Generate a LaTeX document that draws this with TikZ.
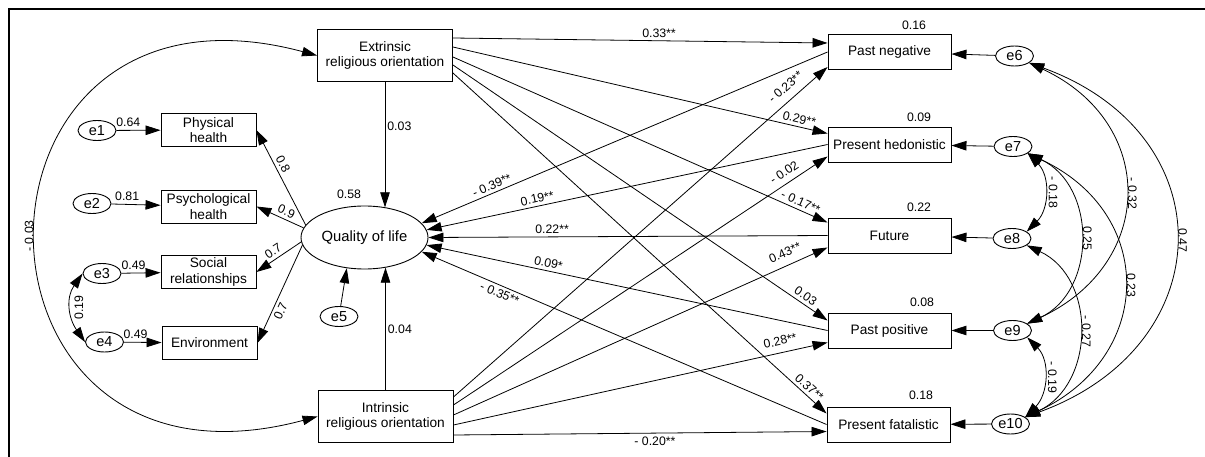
\documentclass[tikz,border=0pt]{standalone}
\usepackage{fontspec}
\setmainfont{Liberation Sans}
\usetikzlibrary{arrows.meta,shapes.geometric}

\tikzset{
    var/.style = {draw, rectangle, line width=0.9pt, align=center, inner sep=1pt, font=\fontsize{13.7}{15.5}\selectfont},
    orient/.style = {var, minimum width=135pt, minimum height=52pt},
    dom/.style = {var, minimum width=95pt, minimum height=33pt},
    tp/.style = {var, minimum width=123pt, minimum height=35pt},
    latent/.style = {draw, ellipse, line width=0.9pt, minimum width=127pt, minimum height=63pt, inner sep=0pt, font=\fontsize{14.8}{18}\selectfont},
    err/.style = {draw, ellipse, line width=0.9pt, minimum width=38pt, minimum height=20pt, inner sep=0pt, font=\fontsize{14.5}{16}\selectfont},
    reg/.style = {line width=0.8pt, -{Triangle[length=15pt,width=9.5pt]}},
    cov/.style = {line width=0.8pt, {Triangle[length=15pt,width=9.5pt]}-{Triangle[length=15pt,width=9.5pt]}},
    coef/.style = {font=\fontsize{12.3}{14}\selectfont, inner sep=3pt}
}

\begin{document}
\begin{tikzpicture}[x=1pt,y=1pt]
                        \useasboundingbox (0,0) rectangle (1205,-457);
                        \draw[line width=2pt] (9,-457) -- (9,-9) -- (1205,-9);

                        \node[orient] (ext) at (385,-55.5) {Extrinsic\\religious orientation};
                        \node[orient] (intr) at (385.5,-416.5) {Intrinsic\\religious orientation};
                        \node[latent] (qol) at (364.5,-237.5) {Quality of life};
                        \node[err] (e5) at (339,-316.5) {e5};
                        \node[coef] (r2qol) at (349,-194) {0.58};

                        \node[dom] (phys) at (208.5,-130) {Physical\\health};
                        \node[dom] (psych) at (208.5,-206.5) {Psychological\\health};
                        \node[dom] (soc) at (208.5,-272) {Social\\relationships};
                        \node[dom] (env) at (209.5,-343) {Environment};
                        \node[err] (e1) at (97,-130.5) {e1};
                        \node[err] (e2) at (92,-203.5) {e2};
                        \node[err] (e3) at (102,-273.5) {e3};
                        \node[err] (e4) at (104.5,-342) {e4};

                        \node[tp] (pn) at (889.5,-52) {Past negative};
                        \node[tp] (ph) at (889.5,-144.5) {Present hedonistic};
                        \node[tp] (fut) at (889.5,-235.5) {Future};
                        \node[tp] (pp) at (889.5,-330.5) {Past positive};
                        \node[tp] (pf) at (888.5,-424.5) {Present fatalistic};
                        \node[coef] (r2pn) at (914,-25) {0.16};
                        \node[coef] (r2ph) at (919,-117) {0.09};
                        \node[coef] (r2fut) at (919,-207) {0.22};
                        \node[coef] (r2pp) at (922,-302) {0.08};
                        \node[coef] (r2pf) at (921,-395) {0.18};
                        \node[err] (e6) at (1014.5,-56) {e6};
                        \node[err] (e7) at (1013,-146.5) {e7};
                        \node[err] (e8) at (1012,-238.5) {e8};
                        \node[err] (e9) at (1012.5,-330.5) {e9};
                        \node[err] (e10) at (1010.5,-424) {e10};

                        \draw[reg] (e1) -- node[coef, above, pos=.27]{0.64} (phys);
                        \draw[reg] (e2) -- node[coef, above, pos=.32]{0.81} (psych);
                        \draw[reg] (e3) -- node[coef, above, pos=.31]{0.49} (soc);
                        \draw[reg] (e4) -- node[coef, above, pos=.31]{0.49} (env);
                        \draw[cov] (e3.west) to[out=235, in=125, looseness=1.1] node[coef, pos=.5, rotate=90, anchor=north]{0.19} (e4.west);

                        \draw[reg] (qol.168) -- node[coef, sloped, above, pos=.6]{0.8} (phys.east);
                        \draw[reg] (qol.171) -- node[coef, sloped, above, pos=.43]{0.9} (psych.east);
                        \draw[reg] (qol.184) -- node[coef, sloped, above, pos=.53]{0.7} (soc.east);
                        \draw[reg] (qol.187) -- node[coef, sloped, below, pos=.64]{0.7} (env.east);
                        \draw[reg] (e5) -- (qol.240);

                        \draw[reg] (ext.south) -- node[coef, right, pos=.35, inner sep=2pt]{0.03} (ext.south |- qol.55);
                        \draw[reg] (intr.north) -- node[coef, right, pos=.5, inner sep=2pt]{0.04} (intr.north |- qol.-55);
                        \draw[cov] (ext.west) to[out=165, in=195, looseness=2.75] node[coef, pos=.5, rotate=90, anchor=south]{- 0.03} (intr.west);

                        \draw[reg] ([yshift=17.5pt]ext.east) -- node[coef, sloped, above, pos=.55]{0.33**} ([yshift=9pt]pn.west);
                        \draw[reg] ([yshift=8.5pt]ext.east) -- node[coef, sloped, above, pos=.92]{0.29**} ([yshift=11pt]ph.west);
                        \draw[reg] ([yshift=-1.5pt]ext.east) -- node[coef, sloped, above, pos=.92]{- 0.17**} ([yshift=13pt]fut.west);
                        \draw[reg] ([yshift=-9.5pt]ext.east) -- node[coef, sloped, above, pos=.93]{0.03} ([yshift=10pt]pp.west);
                        \draw[reg] ([yshift=-17.5pt]ext.east) -- node[coef, sloped, above, pos=.94]{0.37**} ([yshift=11pt]pf.west);

                        \draw[reg] ([yshift=19.5pt]intr.east) -- node[coef, sloped, above, pos=.91, inner sep=8pt]{- 0.23**} ([yshift=-15pt]pn.west);
                        \draw[reg] ([yshift=11.5pt]intr.east) -- node[coef, sloped, above, pos=.9, inner sep=6pt]{- 0.02} ([yshift=-12pt]ph.west);
                        \draw[reg] ([yshift=1.5pt]intr.east) -- node[coef, sloped, above, pos=.9, inner sep=8pt]{0.43**} ([yshift=-12pt]fut.west);
                        \draw[reg] ([yshift=-8.5pt]intr.east) -- node[coef, sloped, above, pos=.88, inner sep=7pt]{0.28**} ([yshift=-12pt]pp.west);
                        \draw[reg] ([yshift=-18.5pt]intr.east) -- node[coef, below, pos=.54]{- 0.20**} ([yshift=-7pt]pf.west);

                        \draw[reg] (pn.west) -- node[coef, sloped, above, pos=.82]{- 0.39**} (qol.14);
                        \draw[reg] (ph.west) -- node[coef, sloped, above, pos=.72]{0.19**} (qol.7);
                        \draw[reg] (fut.west) -- node[coef, sloped, above, pos=.69]{0.22**} (qol.east);
                        \draw[reg] (pp.west) -- node[coef, sloped, above, pos=.7]{0.09*} (qol.-7);
                        \draw[reg] (pf.west) -- node[coef, sloped, below, pos=.8]{- 0.35**} (qol.-14);

                        \draw[reg] (e6) -- (pn);
                        \draw[reg] (e7) -- (ph);
                        \draw[reg] (e8) -- (fut);
                        \draw[reg] (e9) -- (pp);
                        \draw[reg] (e10) -- (pf);

                        \draw[cov] (e7.-25) to[out=-45, in=45, looseness=1.05] node[coef, pos=.5, rotate=-90, anchor=south, inner sep=4pt]{- 0.18} (e8.25);
                        \draw[cov] (e9.-25) to[out=-45, in=45, looseness=1.05] node[coef, pos=.5, rotate=-90, anchor=south, inner sep=4pt]{- 0.19} (e10.25);
                        \draw[cov] (e7.-25) to[out=-25, in=25, looseness=1.15] node[coef, pos=.5, rotate=-90, anchor=south]{0.25} (e9.25);
                        \draw[cov] (e8.-25) to[out=-25, in=25, looseness=1.15] node[coef, pos=.5, rotate=-90, anchor=south]{- 0.27} (e10.25);
                        \draw[cov] (e6.-25) to[out=-25, in=25, looseness=1.39] node[coef, pos=.5, rotate=-90, anchor=south]{- 0.32} (e9.25);
                        \draw[cov] (e7.-25) to[out=-25, in=25, looseness=1.38] node[coef, pos=.5, rotate=-90, anchor=south]{0.23} (e10.25);
                        \draw[cov] (e6.-25) to[out=-20, in=20, looseness=1.51] node[coef, pos=.5, rotate=-90, anchor=south]{0.47} (e10.25);
                    \end{tikzpicture}
\end{document}
